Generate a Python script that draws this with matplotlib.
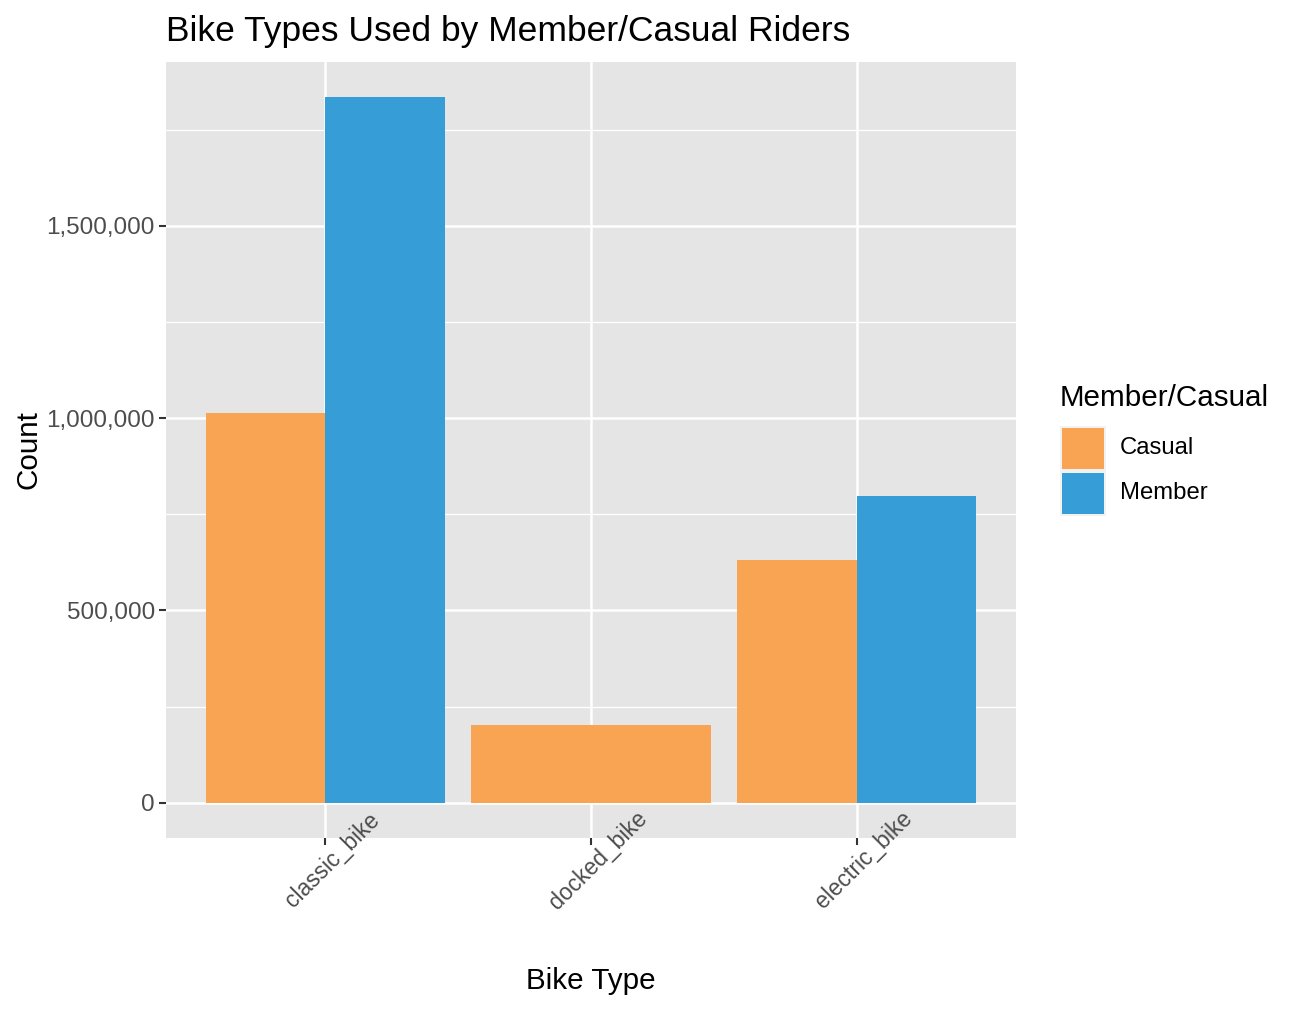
import matplotlib
matplotlib.use("Agg")
import matplotlib.pyplot as plt
import matplotlib.transforms as mtransforms
from matplotlib.patches import Rectangle
from matplotlib.ticker import FuncFormatter, MultipleLocator
import numpy as np

plt.rcParams['font.family'] = ['Liberation Sans', 'DejaVu Sans']

bike_types = ["classic_bike", "docked_bike", "electric_bike"]
rider_groups = ["Casual", "Member"]
casual_counts = [1013000, 202600, 631000]
member_counts = [1834000, 0, 797400]   # no member rides on docked bikes
colors = {"Casual": "#F8A452", "Member": "#379DD6"}

W, H = 1296, 1010
fig = plt.figure(figsize=(W / 100, H / 100), dpi=100)
ax = fig.add_axes([166 / W, 1 - 838 / H, (1016 - 166) / W, (838 - 62) / H])
ax.set_facecolor("#E5E5E5")

x = np.arange(len(bike_types))
width = 0.9
for i, bt in enumerate(bike_types):
    c, m = casual_counts[i], member_counts[i]
    if m > 0:
        ax.bar(x[i] - width / 4, c, width / 2, color=colors["Casual"], zorder=3)
        ax.bar(x[i] + width / 4, m, width / 2, color=colors["Member"], zorder=3)
    else:
        ax.bar(x[i], c, width, color=colors["Casual"], zorder=3)

ymax = max(max(casual_counts), max(member_counts))
ax.set_ylim(-0.05 * ymax, 1.05 * ymax)
ax.set_xlim(-0.6, len(bike_types) - 0.4)

ax.yaxis.set_major_locator(MultipleLocator(500000))
ax.yaxis.set_minor_locator(MultipleLocator(250000))
ax.yaxis.set_major_formatter(FuncFormatter(lambda v, p: f"{int(v):,}"))
ax.set_xticks(x)
ax.set_xticklabels(bike_types, rotation=45, ha="center", va="center")

ax.grid(which="major", color="white", linewidth=1.8, zorder=0)
ax.grid(which="minor", axis="y", color="white", linewidth=0.9, zorder=0)
ax.set_axisbelow(True)
for s in ax.spines.values():
    s.set_visible(False)
ax.tick_params(which="major", length=5, width=1.5, color="#333333",
               labelsize=17.5, labelcolor="#4D4D4D", pad=3)
ax.tick_params(which="minor", length=0)
ax.tick_params(axis="x", labelsize=16.5, pad=11)
shift = mtransforms.ScaledTranslation(7 / 100, 0, fig.dpi_scale_trans)
for lab in ax.get_xticklabels():
    lab.set_transform(lab.get_transform() + shift)

fig.text(166 / W, 1 - 41 / H, "Bike Types Used by Member/Casual Riders",
         fontsize=25.5, va="baseline", ha="left")
fig.text(28 / W, 1 - 450 / H, "Count", fontsize=21.3, rotation=90,
         va="center", ha="center")
fig.text(591 / W, 1 - 981 / H, "Bike Type", fontsize=21.3, va="center", ha="center")

# legend
fig.text(1060 / W, 1 - 398 / H, "Member/Casual", fontsize=21.3,
         va="center", ha="left")
for k, g in enumerate(rider_groups):
    y0 = 426 + k * 45
    fig.patches.append(Rectangle((1060 / W, 1 - (y0 + 45) / H), 46 / W, 45 / H,
                                 transform=fig.transFigure, facecolor="#F2F2F2",
                                 edgecolor="none"))
    fig.patches.append(Rectangle((1062 / W, 1 - (y0 + 43) / H), 42 / W, 41 / H,
                                 transform=fig.transFigure, facecolor=colors[g],
                                 edgecolor="none"))
    fig.text(1120 / W, 1 - (y0 + 22) / H, g, fontsize=17.2, va="center", ha="left")

fig.savefig("out.png", dpi=100)
